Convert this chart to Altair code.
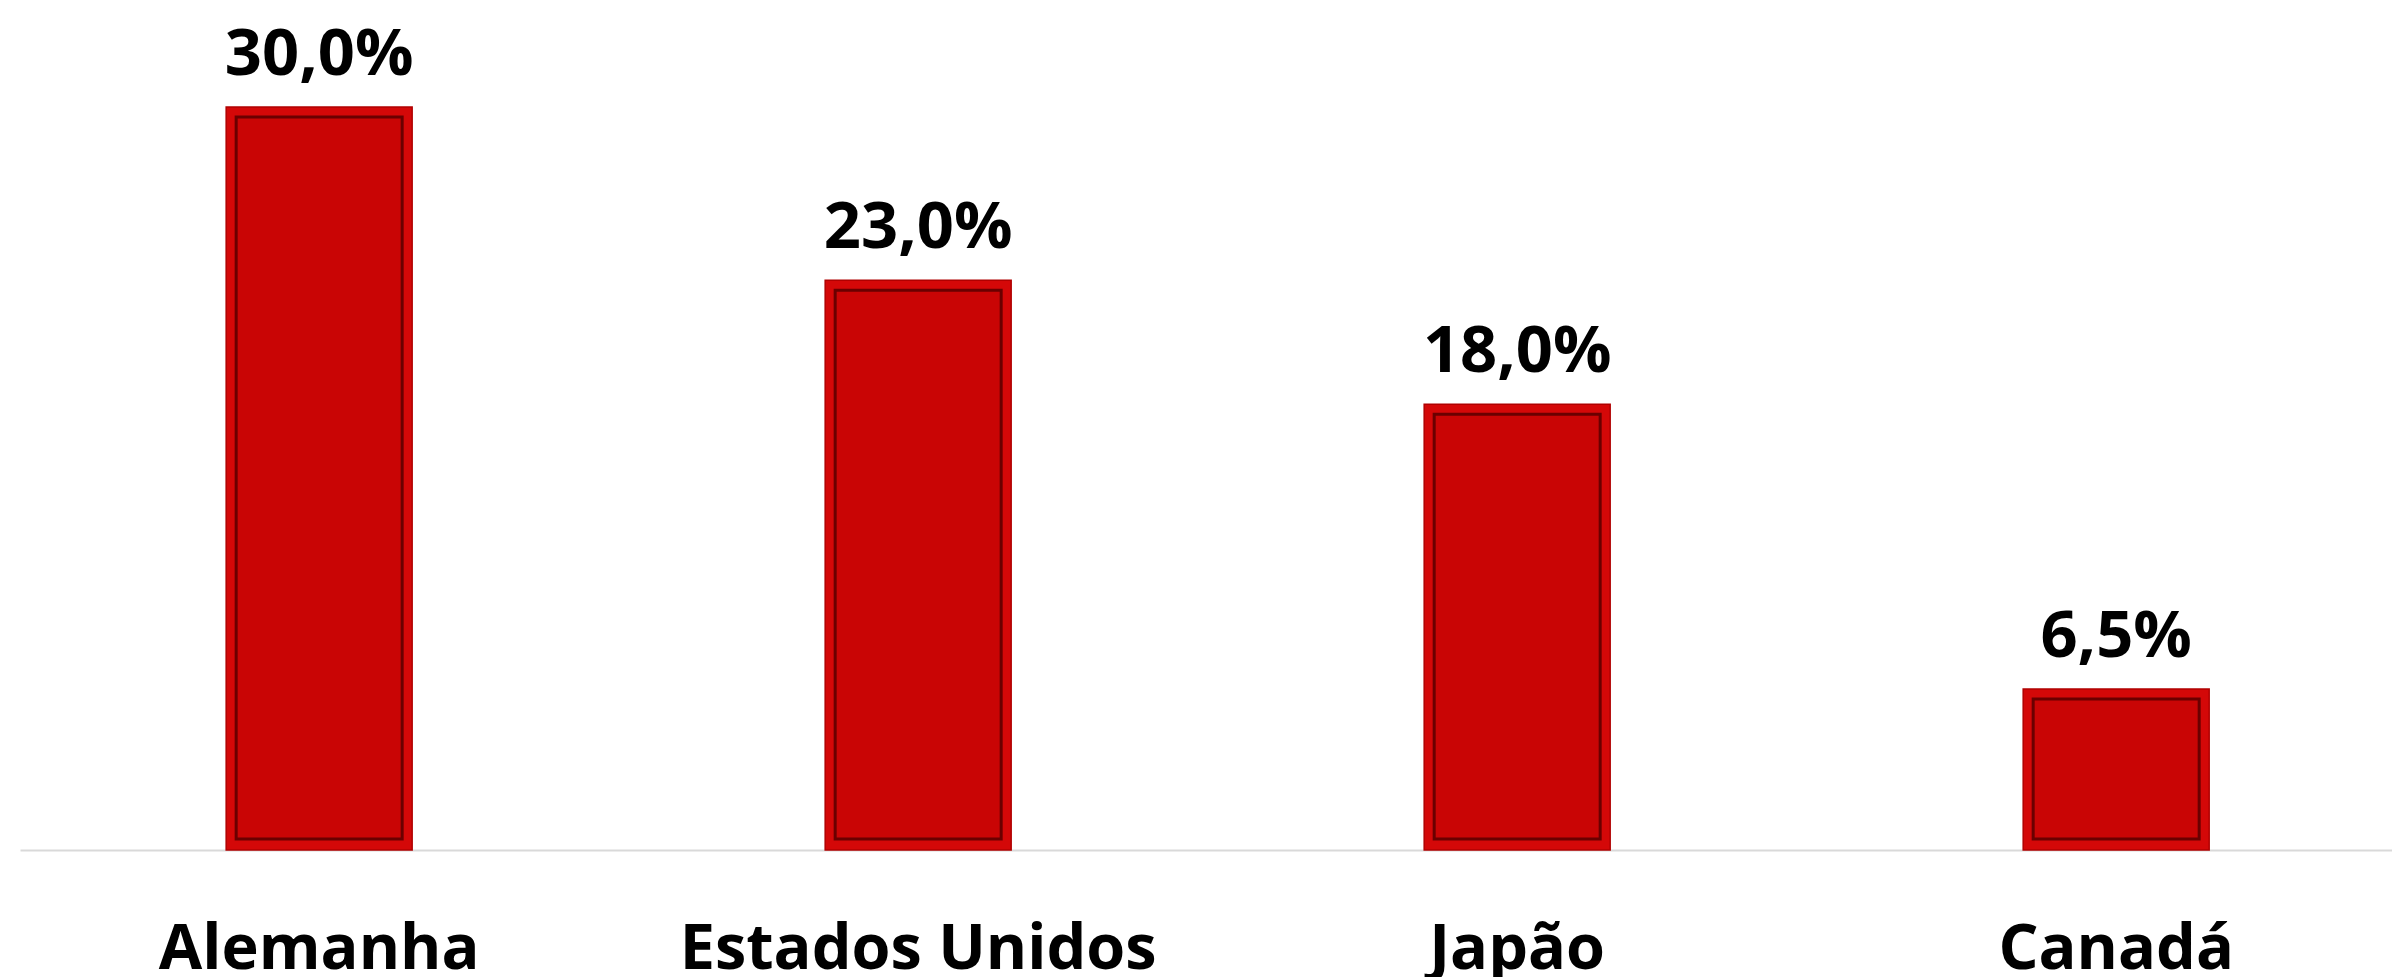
import altair as alt
import pandas as pd

paises = ["Alemanha", "Estados Unidos", "Japão", "Canadá"]
valores = [30.0, 23.0, 18.0, 6.5]
rotulos = [f"{v:.1f}".replace(".", ",") + "%" for v in valores]

df = pd.DataFrame({"pais": paises, "valor": valores, "rotulo": rotulos})

FONT = "Open Sans"

x = alt.X(
    "pais:N",
    sort=paises,
    title=None,
    scale=alt.Scale(paddingInner=0.6895, paddingOuter=0.3247, align=0.53),
    axis=alt.Axis(
        labelAngle=0,
        labelFont=FONT,
        labelFontSize=63,
        labelFontWeight="bold",
        labelColor="#000000",
        labelBaseline="alphabetic",
        labelPadding=118,
        labelLimit=0,
        ticks=False,
        tickSize=0,
        domainColor="#d9d9d9",
        domainWidth=2,
        grid=False,
    ),
)
yscale = alt.Scale(domain=[0, 34.32], nice=False, zero=True)
y = alt.Y("valor:Q", title=None, scale=yscale, axis=None, stack=None)

base = alt.Chart(df)

outer = base.mark_bar(
    color="#d40808", stroke="#b00000", strokeWidth=1.5
).encode(x=x, y=y, y2=alt.datum(0))

inner = base.mark_bar(
    color="#c90505",
    stroke="#6a0000",
    strokeWidth=3,
    width=alt.RelativeBandSize(0.8925),
    yOffset=10,
    y2Offset=-11,
).encode(x=x, y=y, y2=alt.datum(0))

labels = base.mark_text(
    font=FONT,
    fontSize=65,
    fontWeight="bold",
    color="#000000",
    baseline="alphabetic",
    dy=-32,
).encode(x=x, y=y, text="rotulo:N")

chart = (
    alt.layer(outer, inner, labels)
    .properties(
        width=2372,
        height=850,
        autosize=alt.AutoSizeParams(type="none"),
        padding={"left": 20, "top": 0, "right": 0, "bottom": 127},
        background="#ffffff",
    )
    .configure_view(stroke=None)
)

chart.save("out.html", embed_options={"renderer": "svg", "actions": False})
